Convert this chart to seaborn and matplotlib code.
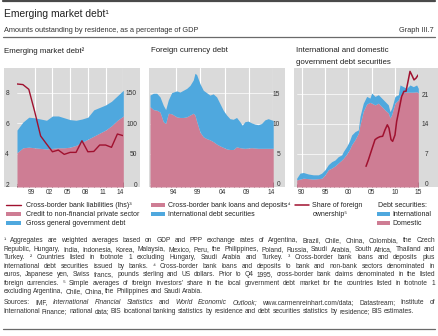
import numpy as np
import pandas as pd
import matplotlib
matplotlib.use("Agg")
import matplotlib.pyplot as plt
import seaborn as sns
from matplotlib.patches import Rectangle
from matplotlib.lines import Line2D

sns.set_theme(style="white")
plt.rcParams['font.family'] = ['Liberation Sans', 'DejaVu Sans']

# ---------------- data ----------------
# Panel 1: Emerging market debt
p1_years = list(range(1997, 2016))
p1_bank_liab = [8.57, 8.53, 8.22, 6.76, 5.17, 4.65, 4.14, 4.25, 3.97, 4.10,
                4.10, 4.86, 4.14, 4.16, 4.58, 4.58, 4.43, 5.30, 5.19]
p1_credit = [52, 60, 61, 60, 59, 58, 59, 60, 60, 61, 64, 69, 74, 79, 84, 89, 96, 105, 112]
p1_govt = [37, 42, 49, 49, 48, 47, 53, 52, 49, 45, 41, 38, 36, 43, 42, 41, 40, 40, 42]
p1_xlabels = ["99", "02", "05", "08", "11", "14"]

# Panel 2: Foreign currency debt
p2_years = [1989.73, 1990.41, 1991.10, 1991.78, 1992.46, 1992.94, 1993.48, 1994.17,
            1995.19, 1995.87, 1996.55, 1997.24, 1997.92, 1998.60, 1998.94, 1999.28,
            1999.97, 2000.65, 2001.33, 2002.01, 2002.69, 2003.38, 2004.06, 2004.74,
            2005.43, 2006.11, 2006.79, 2007.47, 2008.15, 2008.63, 2009.18, 2009.86,
            2010.54, 2011.22, 2011.91, 2012.59, 2013.27, 2013.95, 2014.63, 2014.98]
p2_bank = [12.8, 12.3, 12.2, 11.9, 10.3, 10.0, 11.7, 11.6, 11.1, 11.0, 11.0, 11.1,
           11.4, 11.7, 11.4, 10.4, 8.6, 7.8, 7.5, 7.3, 7.0, 6.6, 6.3, 6.05, 5.8, 5.7,
           5.7, 6.15, 6.0, 5.95, 5.9, 5.95, 6.0, 5.95, 5.9, 5.9, 5.9, 5.9, 5.9, 5.9]
p2_intl = [1.9, 2.7, 2.8, 2.5, 2.7, 2.3, 2.2, 3.5, 4.3, 4.2, 4.5, 4.7, 4.9, 5.5, 6.9,
           7.7, 8.0, 7.7, 7.6, 7.4, 7.9, 7.8, 7.0, 6.15, 5.6, 5.1, 5.0, 4.85, 4.3, 3.75,
           4.4, 4.45, 4.1, 3.95, 3.9, 4.1, 4.7, 4.9, 4.7, 4.6]
p2_xlabels = ["94", "99", "04", "09", "14"]

# Panel 3: International and domestic government debt securities
p3_years = [1988.93, 1989.64, 1990.35, 1991.42, 1992.49, 1993.57, 1994.28, 1995.00,
            1995.71, 1996.43, 1997.14, 1997.85, 1998.57, 1998.93, 1999.64, 2000.21,
            2000.71, 2001.43, 2002.14, 2002.50, 2003.21, 2003.93, 2004.64, 2005.00,
            2005.72, 2006.43, 2007.15, 2007.86, 2008.57, 2008.93, 2009.29, 2010.00,
            2010.72, 2011.08, 2011.79, 2012.50, 2013.22, 2013.93, 2014.65, 2015.00]
p3_domestic = [0.8, 1.0, 1.2, 1.1, 1.0, 1.1, 1.2, 2.0, 3.2, 3.6, 4.1, 4.8, 5.5, 5.9,
               6.9, 7.9, 9.1, 10.3, 11.8, 13.8, 17.0, 18.7, 19.1, 18.9, 18.5, 18.9,
               18.1, 17.3, 16.6, 15.4, 16.2, 18.9, 19.7, 20.7, 21.5, 21.5, 21.5, 21.5,
               21.6, 21.3]
p3_intl = [0.4, 1.4, 1.35, 1.1, 1.0, 0.9, 1.2, 1.2, 1.2, 1.5, 1.4, 1.5, 1.2, 1.6, 1.8,
           2.0, 2.3, 1.9, 0.8, 2.0, 1.9, 1.8, 1.0, 2.4, 2.0, 2.0, 2.0, 2.0, 1.9, 1.5,
           1.5, 1.6, 1.2, 2.5, 1.3, 0.9, 1.7, 1.3, 1.6, 1.1]
p3_share_years = [2003.79, 2004.29, 2005.00, 2005.72, 2006.22, 2006.79, 2007.36, 2007.86,
                  2008.36, 2008.72, 2009.15, 2009.50, 2010.00, 2010.36, 2010.86, 2011.43,
                  2011.93, 2012.36, 2012.72, 2013.22, 2013.58, 2014.08, 2014.51, 2015.00]
p3_share = [4.0, 5.5, 7.9, 10.3, 10.7, 11.0, 11.1, 12.6, 13.8, 13.0, 10.3, 9.9, 11.4,
            14.6, 17.3, 20.5, 21.7, 21.7, 23.6, 26.4, 25.6, 24.4, 24.8, 25.6]
p3_xlabels = ["90", "95", "00", "05", "10", "15"]

# ---------------- style ----------------
GREY = "#DADADA"
PINK = "#CE7D94"
BLUE = "#4FA8DE"
RED = "#A0112F"
TXT = "#222222"
TICKC = "#4a3038"
TFS = 4.8   # tick label size

W, H = 439, 336
fig = plt.figure(figsize=(W / 100, H / 100), dpi=100)


def fx(px):
    return px / W


def fy(py):
    return 1 - py / H


def add_axes(x0, x1, y0, y1):
    return fig.add_axes([fx(x0), fy(y1), (x1 - x0) / W, (y1 - y0) / H])


def grey_box(x0, x1, y0=68, y1=187):
    fig.add_artist(Rectangle((fx(x0), fy(y1)), (x1 - x0) / W, (y1 - y0) / H,
                             transform=fig.transFigure, facecolor=GREY,
                             edgecolor="none", zorder=-10))


def style_axes(ax, xlim, minor, major, labpos, labels):
    ax.set_facecolor("none")
    for s in ax.spines.values():
        s.set_visible(False)
    ax.set_xlim(*xlim)
    ax.set_xticks(major)
    ax.set_xticks(minor, minor=True)
    ax.set_xticklabels([])
    ax.tick_params(axis="x", which="major", direction="in", length=3.6,
                   width=0.6, color=TICKC, bottom=True, top=False)
    ax.tick_params(axis="x", which="minor", direction="in", length=2.0,
                   width=0.5, color=TICKC, bottom=True, top=False)
    ax.grid(axis="x", which="major", color="white", lw=0.8)
    ax.grid(axis="y", which="major", color="white", lw=0.5)
    ax.set_axisbelow(True)
    ax.set_xlabel("")
    ax.set_ylabel("")
    tr = ax.get_xaxis_transform()
    for p, l in zip(labpos, labels):
        ax.text(p, -0.05, l, transform=tr, ha="center", va="center",
                fontsize=TFS, color="#333333")


def right_ticks(ax, ticks, pad_px):
    ax.yaxis.tick_right()
    ax.set_yticks(ticks)
    ax.set_yticklabels([str(t) for t in ticks])
    ax.tick_params(axis="y", length=0, pad=pad_px * 0.72, labelsize=TFS,
                   labelcolor="#333333")


# ---------- Panel 1 ----------
grey_box(4, 140)
ax1 = add_axes(17, 123.3, 68, 187)
ax1L = ax1.twinx()
ax1.set_ylim(-4.08, 190.4)
ax1L.set_ylim(1.837, 9.614)
base1 = ax1.get_ylim()[0]
stack1 = np.add(p1_credit, p1_govt)
ax1.fill_between(p1_years, base1, p1_credit, color=PINK, lw=0, zorder=2)
ax1.fill_between(p1_years, p1_credit, stack1, color=BLUE, lw=0, zorder=2)
style_axes(ax1, (1997, 2015), list(range(1997, 2016)),
           [2000, 2003, 2006, 2009, 2012, 2015],
           [1999.5, 2002.5, 2005.5, 2008.5, 2011.5, 2014.5], p1_xlabels)
sns.lineplot(x=p1_years, y=p1_bank_liab, ax=ax1L, color=RED, linewidth=1.0,
             legend=False)
ax1L.set_facecolor("none")
for s in ax1L.spines.values():
    s.set_visible(False)
ax1L.set_xlim(1997, 2015)
ax1L.set_xlabel("")
ax1L.set_ylabel("")
right_ticks(ax1, [0, 50, 100, 150], 13.7)
ax1L.yaxis.tick_left()
ax1L.set_yticks([2, 4, 6, 8])
ax1L.set_yticklabels(["2", "4", "6", "8"])
ax1L.tick_params(axis="y", length=0, pad=8 * 0.72, labelsize=TFS, labelcolor="#333333")
ax1L.tick_params(axis="x", which="both", length=0)

# ---------- Panel 2 ----------
grey_box(149, 285)
ax2 = add_axes(150, 273.3, 68, 187)
ax2.set_ylim(-0.5, 19.18)
base2 = ax2.get_ylim()[0]
stack2 = np.add(p2_bank, p2_intl)
ax2.fill_between(p2_years, base2, p2_bank, color=PINK, lw=0, zorder=2)
ax2.fill_between(p2_years, p2_bank, stack2, color=BLUE, lw=0, zorder=2)
style_axes(ax2, (1989.73, 2015.0), list(range(1990, 2016)),
           [1995, 2000, 2005, 2010, 2015],
           [1994.5, 1999.5, 2004.5, 2009.5, 2014.5], p2_xlabels)
right_ticks(ax2, [0, 5, 10, 15], 6.7)

# ---------- Panel 3 ----------
grey_box(294, 438)
ax3 = add_axes(296.7, 418.3, 68, 187)
ax3.set_ylim(-0.87, 27.2)
base3 = ax3.get_ylim()[0]
stack3 = np.add(p3_domestic, p3_intl)
ax3.fill_between(p3_years, base3, p3_domestic, color=PINK, lw=0, zorder=2)
ax3.fill_between(p3_years, p3_domestic, stack3, color=BLUE, lw=0, zorder=2)
style_axes(ax3, (1988.93, 2015.0), list(range(1989, 2016)),
           [1990, 1995, 2000, 2005, 2010, 2015],
           [1990, 1995, 2000, 2005, 2010, 2015], p3_xlabels)
sns.lineplot(x=p3_share_years, y=p3_share, ax=ax3, color=RED, linewidth=1.1,
             legend=False, zorder=4)
ax3.set_xlabel("")
ax3.set_ylabel("")
right_ticks(ax3, [0, 7, 14, 21], 10.2)

for a in (ax1, ax2, ax3):
    plt.setp(a.get_yticklabels(), ha="right")

# ---------------- header ----------------
fig.add_artist(Line2D([fx(3), fx(435)], [fy(1.2)] * 2, color="#4a4a4a", lw=1.6))
fig.text(fx(4.5), fy(14), "Emerging market debt\u00b9", fontsize=7.4, color=TXT,
         ha="left", va="center")
fig.text(fx(4.5), fy(30), "Amounts outstanding by residence, as a percentage of GDP",
         fontsize=5.3, color="#333333", ha="left", va="center")
fig.text(fx(434), fy(30), "Graph III.7", fontsize=5.3, color="#333333",
         ha="right", va="center")
fig.add_artist(Line2D([fx(3), fx(435)], [fy(36.8)] * 2, color="#6a6a6a", lw=0.9))

PFS = 5.7
fig.text(fx(4.5), fy(51), "Emerging market debt\u00b2", fontsize=PFS, color=TXT,
         ha="left", va="center")
fig.text(fx(151), fy(51), "Foreign currency debt", fontsize=PFS, color=TXT,
         ha="left", va="center")
fig.text(fx(296), fy(51), "International and domestic", fontsize=PFS, color=TXT,
         ha="left", va="center")
fig.text(fx(296), fy(62), "government debt securities", fontsize=PFS, color=TXT,
         ha="left", va="center")

# ---------------- legends ----------------
LFS = 5.0


def leg_line(x0, x1, y, color, lw):
    fig.add_artist(Line2D([fx(x0), fx(x1)], [fy(y)] * 2, color=color, lw=lw))


def leg_patch(x0, x1, y, color):
    fig.add_artist(Rectangle((fx(x0), fy(y + 2)), (x1 - x0) / W, 4 / H,
                             transform=fig.transFigure, facecolor=color,
                             edgecolor="none"))


def leg_text(x, y, s):
    fig.text(fx(x), fy(y + 1.9), s, fontsize=LFS, color=TXT, ha="left",
             va="baseline")


leg_line(6.5, 21, 205, RED, 1.0)
leg_text(26.5, 205, "Cross-border bank liabilities (lhs)\u00b3")
leg_patch(6.5, 21, 214, PINK)
leg_text(26.5, 214, "Credit to non-financial private sector")
leg_patch(6.5, 21, 223, BLUE)
leg_text(26.5, 223, "Gross general government debt")

leg_patch(151.5, 165, 205, PINK)
leg_text(168, 205, "Cross-border bank loans and deposits\u2074")
leg_patch(151.5, 165, 214, BLUE)
leg_text(168, 214, "International debt securities")

leg_line(295, 309, 205, RED, 1.1)
leg_text(312.5, 205, "Share of foreign")
leg_text(312.5, 214, "ownership\u2075")
leg_text(378, 205, "Debt securities:")
leg_patch(377, 390, 214, BLUE)
leg_text(392.5, 214, "International")
leg_patch(377, 390, 223, PINK)
leg_text(392.5, 223, "Domestic")

# ---------------- footnotes ----------------
renderer = fig.canvas.get_renderer()
X0, X1 = 3.5, 435.0

foot_lines = [
    "\u00b9 Aggregates are weighted averages based on GDP and PPP exchange rates of Argentina, Brazil, Chile, China, Colombia, the Czech",
    "Republic, Hungary, India, Indonesia, Korea, Malaysia, Mexico, Peru, the Philippines, Poland, Russia, Saudi Arabia, South Africa, Thailand and",
    "Turkey. \u00b2 Countries listed in footnote 1 excluding Hungary, Saudi Arabia and Turkey. \u00b3 Cross-border bank loans and deposits plus",
    "international debt securities issued by banks. \u2074 Cross-border bank loans and deposits to bank and non-bank sectors denominated in",
    "euros, Japanese yen, Swiss francs, pounds sterling and US dollars. Prior to Q4 1995, cross-border bank claims denominated in the listed",
    "foreign currencies. \u2075 Simple averages of foreign investors\u2019 share in the local government debt market for the countries listed in footnote 1",
    "excluding Argentina, Chile, China, the Philippines and Saudi Arabia.",
]
foot_y = [240.3, 248.8, 257.3, 265.8, 274.3, 282.8, 291.3]
src1 = "Sources: IMF, International Financial Statistics and World Economic Outlook; www.carmenreinhart.com/data; Datastream; Institute of"
src2 = "International Finance; national data; BIS locational banking statistics by residence and debt securities statistics by residence; BIS estimates."

# choose the footnote font size so the widest line just fits with normal spacing
probe = fig.text(0, 0, foot_lines[1], fontsize=5.0)
w_probe = probe.get_window_extent(renderer).width
probe.remove()
FFS = 5.0 * (X1 - X0) * 0.985 / w_probe


def place_line(words, y, justify=True, italic=()):
    texts = []
    for i, w in enumerate(words):
        t = fig.text(0, fy(y + 1.8), w, fontsize=FFS, color="#333333", ha="left",
                     va="baseline", style="italic" if i in italic else "normal")
        texts.append(t)
    widths = [t.get_window_extent(renderer).width for t in texts]
    space = FFS * 100 / 72 * 0.278
    if justify and len(words) > 1:
        gap = (X1 - X0 - sum(widths)) / (len(words) - 1)
    else:
        gap = space
    x = X0
    for t, w in zip(texts, widths):
        t.set_x(fx(x))
        x += w + gap


for i, (line, yy) in enumerate(zip(foot_lines, foot_y)):
    place_line(line.split(" "), yy, justify=(i < len(foot_lines) - 1))

place_line(src1.split(" "), 302.7, justify=True, italic=(2, 3, 4, 6, 7, 8))
place_line(src2.split(" "), 311.2, justify=False)

fig.add_artist(Line2D([fx(3), fx(435)], [fy(329.3)] * 2, color="#6a6a6a", lw=0.9))

fig.savefig("out.png", dpi=100)
